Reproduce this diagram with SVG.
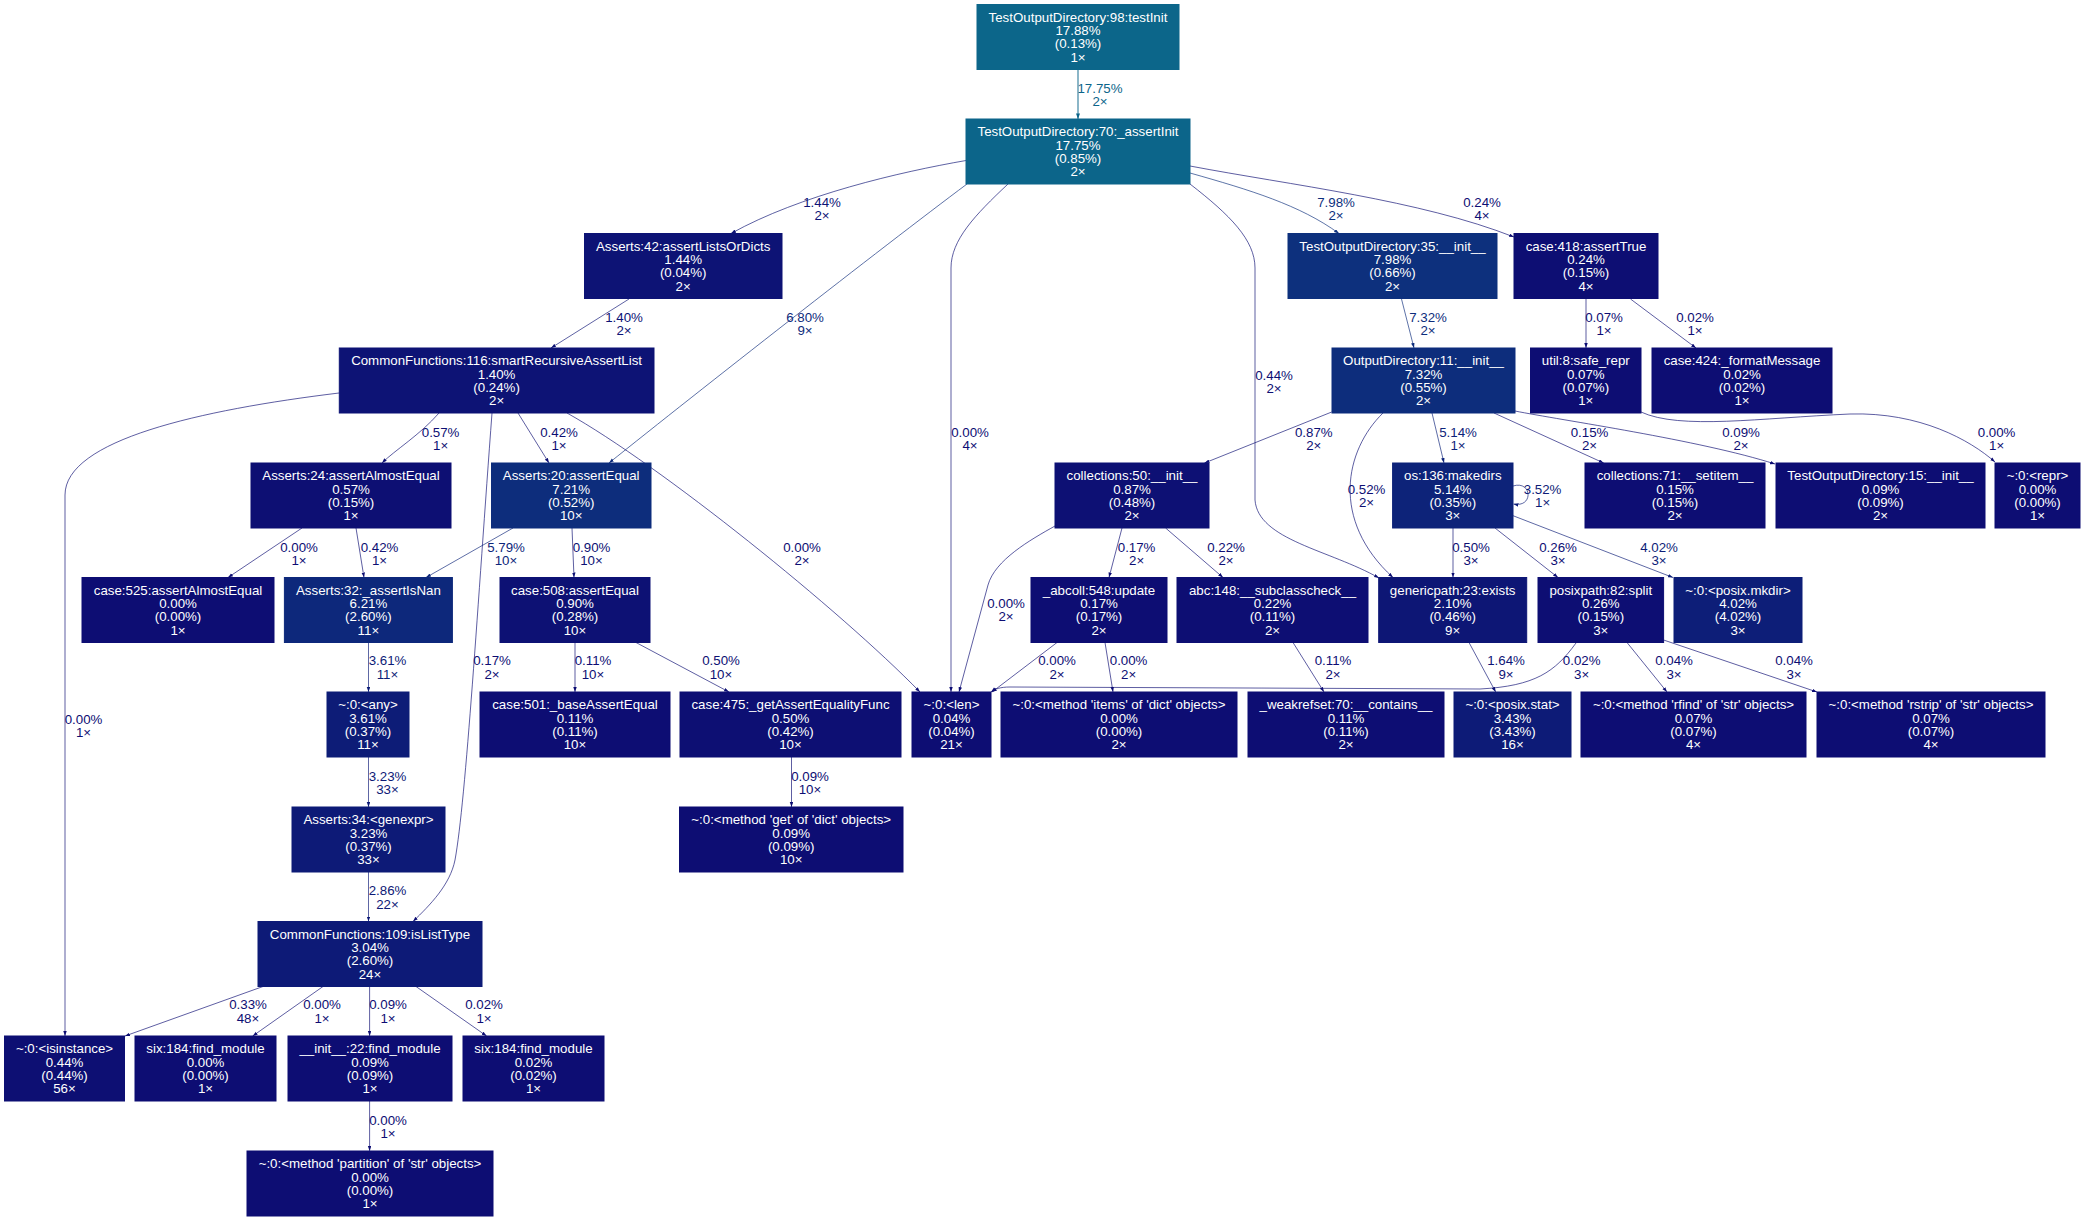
<svg xmlns="http://www.w3.org/2000/svg" width="2085" height="1221" viewBox="0 0 2085 1221">
<style>
text{font-family:"Liberation Sans",Arial,Helvetica,sans-serif;font-size:13.3px}
.node text{fill:#fff;text-anchor:middle}
.node rect{stroke-width:1}
.edge path{fill:none;stroke-width:0.67}
.edge text{text-anchor:middle}
</style>
<defs>
<marker id="mA" markerUnits="userSpaceOnUse" markerWidth="7" markerHeight="5" refX="5.6" refY="2" orient="auto"><path d="M0,0L5.6,2L0,4z" fill="#0c658a"/></marker>
<marker id="m30" markerUnits="userSpaceOnUse" markerWidth="6" markerHeight="4" refX="5" refY="1.75" orient="auto"><path d="M0,0L5,1.75L0,3.5z" fill="#0d307d"/></marker>
<marker id="m2d" markerUnits="userSpaceOnUse" markerWidth="6" markerHeight="4" refX="5" refY="1.75" orient="auto"><path d="M0,0L5,1.75L0,3.5z" fill="#0d2d7c"/></marker>
<marker id="m2b" markerUnits="userSpaceOnUse" markerWidth="6" markerHeight="4" refX="5" refY="1.75" orient="auto"><path d="M0,0L5,1.75L0,3.5z" fill="#0d2b7b"/></marker>
<marker id="m26" markerUnits="userSpaceOnUse" markerWidth="6" markerHeight="4" refX="5" refY="1.75" orient="auto"><path d="M0,0L5,1.75L0,3.5z" fill="#0d267a"/></marker>
<marker id="m23" markerUnits="userSpaceOnUse" markerWidth="6" markerHeight="4" refX="5" refY="1.75" orient="auto"><path d="M0,0L5,1.75L0,3.5z" fill="#0d2379"/></marker>
<marker id="m1e" markerUnits="userSpaceOnUse" markerWidth="6" markerHeight="4" refX="5" refY="1.75" orient="auto"><path d="M0,0L5,1.75L0,3.5z" fill="#0d1e78"/></marker>
<marker id="m1c" markerUnits="userSpaceOnUse" markerWidth="6" markerHeight="4" refX="5" refY="1.75" orient="auto"><path d="M0,0L5,1.75L0,3.5z" fill="#0d1c77"/></marker>
<marker id="m1a" markerUnits="userSpaceOnUse" markerWidth="6" markerHeight="4" refX="5" refY="1.75" orient="auto"><path d="M0,0L5,1.75L0,3.5z" fill="#0d1a77"/></marker>
<marker id="m19" markerUnits="userSpaceOnUse" markerWidth="6" markerHeight="4" refX="5" refY="1.75" orient="auto"><path d="M0,0L5,1.75L0,3.5z" fill="#0d1976"/></marker>
<marker id="m14" markerUnits="userSpaceOnUse" markerWidth="6" markerHeight="4" refX="5" refY="1.75" orient="auto"><path d="M0,0L5,1.75L0,3.5z" fill="#0d1475"/></marker>
<marker id="m13" markerUnits="userSpaceOnUse" markerWidth="6" markerHeight="4" refX="5" refY="1.75" orient="auto"><path d="M0,0L5,1.75L0,3.5z" fill="#0d1375"/></marker>
<marker id="m11" markerUnits="userSpaceOnUse" markerWidth="6" markerHeight="4" refX="5" refY="1.75" orient="auto"><path d="M0,0L5,1.75L0,3.5z" fill="#0d1174"/></marker>
<marker id="m10" markerUnits="userSpaceOnUse" markerWidth="6" markerHeight="4" refX="5" refY="1.75" orient="auto"><path d="M0,0L5,1.75L0,3.5z" fill="#0d1074"/></marker>
<marker id="m0f" markerUnits="userSpaceOnUse" markerWidth="6" markerHeight="4" refX="5" refY="1.75" orient="auto"><path d="M0,0L5,1.75L0,3.5z" fill="#0d0f73"/></marker>
<marker id="m0e" markerUnits="userSpaceOnUse" markerWidth="6" markerHeight="4" refX="5" refY="1.75" orient="auto"><path d="M0,0L5,1.75L0,3.5z" fill="#0d0e73"/></marker>
<marker id="m0d" markerUnits="userSpaceOnUse" markerWidth="6" markerHeight="4" refX="5" refY="1.75" orient="auto"><path d="M0,0L5,1.75L0,3.5z" fill="#0d0d73"/></marker>
</defs>
<rect width="2085" height="1221" fill="#fff"/>
<g id="edges" class="edge">
<path d="M1078,69.5L1078,119" stroke="#0c658a" style="stroke-width:0.95" marker-end="url(#mA)"/>
<text x="1100" y="93" fill="#0c658a"><tspan x="1100">17.75%</tspan><tspan x="1100" dy="13.3">2×</tspan></text>
<path d="M966,160.5C900,172 800,195 731,233.5" stroke="#0d1375" marker-end="url(#m13)"/>
<text x="822" y="206.7" fill="#0d1375"><tspan x="822">1.44%</tspan><tspan x="822" dy="13.3">2×</tspan></text>
<path d="M967,184C880,249 700,390 609,463" stroke="#0d2b7b" marker-end="url(#m2b)"/>
<text x="805" y="321.7" fill="#0d2b7b"><tspan x="805">6.80%</tspan><tspan x="805" dy="13.3">9×</tspan></text>
<path d="M1008,184C975,215 951,240 951,268L951,692" stroke="#0d0d73" marker-end="url(#m0d)"/>
<text x="970" y="436.7" fill="#0d0d73"><tspan x="970">0.00%</tspan><tspan x="970" dy="13.3">4×</tspan></text>
<path d="M1190,184C1230,215 1255,240 1255,268L1255,500C1258,540 1330,550 1379,578" stroke="#0d0f73" marker-end="url(#m0f)"/>
<text x="1274" y="379.7" fill="#0d0f73"><tspan x="1274">0.44%</tspan><tspan x="1274" dy="13.3">2×</tspan></text>
<path d="M1190,173C1250,190 1300,205 1339,233.5" stroke="#0d307d" marker-end="url(#m30)"/>
<text x="1336" y="206.7" fill="#0d307d"><tspan x="1336">7.98%</tspan><tspan x="1336" dy="13.3">2×</tspan></text>
<path d="M1190,166C1290,185 1420,200 1514,237" stroke="#0d0e73" marker-end="url(#m0e)"/>
<text x="1482" y="206.7" fill="#0d0e73"><tspan x="1482">0.24%</tspan><tspan x="1482" dy="13.3">4×</tspan></text>
<path d="M629,299L551,348" stroke="#0d1375" marker-end="url(#m13)"/>
<text x="624" y="321.7" fill="#0d1375"><tspan x="624">1.40%</tspan><tspan x="624" dy="13.3">2×</tspan></text>
<path d="M1401.5,299L1414,348" stroke="#0d2d7c" marker-end="url(#m2d)"/>
<text x="1428" y="321.7" fill="#0d2d7c"><tspan x="1428">7.32%</tspan><tspan x="1428" dy="13.3">2×</tspan></text>
<path d="M1586,299L1586,348" stroke="#0d0d73" marker-end="url(#m0d)"/>
<text x="1604" y="321.7" fill="#0d0d73"><tspan x="1604">0.07%</tspan><tspan x="1604" dy="13.3">1×</tspan></text>
<path d="M1630.5,299L1696,348" stroke="#0d0d73" marker-end="url(#m0d)"/>
<text x="1695" y="321.7" fill="#0d0d73"><tspan x="1695">0.02%</tspan><tspan x="1695" dy="13.3">1×</tspan></text>
<path d="M339,393C200,410 65,440 65,495L65,1036" stroke="#0d0d73" marker-end="url(#m0d)"/>
<text x="83.5" y="723.7" fill="#0d0d73"><tspan x="83.5">0.00%</tspan><tspan x="83.5" dy="13.3">1×</tspan></text>
<path d="M439,413C420,435 395,450 382,463" stroke="#0d0f73" marker-end="url(#m0f)"/>
<text x="440.6" y="436.7" fill="#0d0f73"><tspan x="440.6">0.57%</tspan><tspan x="440.6" dy="13.3">1×</tspan></text>
<path d="M518,413L549,463" stroke="#0d0f73" marker-end="url(#m0f)"/>
<text x="559" y="436.7" fill="#0d0f73"><tspan x="559">0.42%</tspan><tspan x="559" dy="13.3">1×</tspan></text>
<path d="M492,413C478,600 466,800 455,860C450,885 430,905 413,921.5" stroke="#0d0d73" marker-end="url(#m0d)"/>
<text x="492" y="665.4" fill="#0d0d73"><tspan x="492">0.17%</tspan><tspan x="492" dy="13.3">2×</tspan></text>
<path d="M567,413C660,465 840,610 920,692" stroke="#0d0d73" marker-end="url(#m0d)"/>
<text x="802" y="551.7" fill="#0d0d73"><tspan x="802">0.00%</tspan><tspan x="802" dy="13.3">2×</tspan></text>
<path d="M302,528L228,577.5" stroke="#0d0d73" marker-end="url(#m0d)"/>
<text x="299" y="551.7" fill="#0d0d73"><tspan x="299">0.00%</tspan><tspan x="299" dy="13.3">1×</tspan></text>
<path d="M356,528L364,577.5" stroke="#0d0f73" marker-end="url(#m0f)"/>
<text x="379.5" y="551.7" fill="#0d0f73"><tspan x="379.5">0.42%</tspan><tspan x="379.5" dy="13.3">1×</tspan></text>
<path d="M513,528L426,577.5" stroke="#0d267a" marker-end="url(#m26)"/>
<text x="506" y="551.7" fill="#0d267a"><tspan x="506">5.79%</tspan><tspan x="506" dy="13.3">10×</tspan></text>
<path d="M572,528L574,577.5" stroke="#0d1174" marker-end="url(#m11)"/>
<text x="591.5" y="551.7" fill="#0d1174"><tspan x="591.5">0.90%</tspan><tspan x="591.5" dy="13.3">10×</tspan></text>
<path d="M368.5,642.5L368.5,692" stroke="#0d1c77" marker-end="url(#m1c)"/>
<text x="387.5" y="665.4" fill="#0d1c77"><tspan x="387.5">3.61%</tspan><tspan x="387.5" dy="13.3">11×</tspan></text>
<path d="M575,642.5L575,692" stroke="#0d0d73" marker-end="url(#m0d)"/>
<text x="593" y="665.4" fill="#0d0d73"><tspan x="593">0.11%</tspan><tspan x="593" dy="13.3">10×</tspan></text>
<path d="M636,642.5L729,692" stroke="#0d0f73" marker-end="url(#m0f)"/>
<text x="721" y="665.4" fill="#0d0f73"><tspan x="721">0.50%</tspan><tspan x="721" dy="13.3">10×</tspan></text>
<path d="M368.5,757L368.5,807" stroke="#0d1a77" marker-end="url(#m1a)"/>
<text x="387.5" y="780.7" fill="#0d1a77"><tspan x="387.5">3.23%</tspan><tspan x="387.5" dy="13.3">33×</tspan></text>
<path d="M791.5,757L791.5,807" stroke="#0d0d73" marker-end="url(#m0d)"/>
<text x="810" y="780.7" fill="#0d0d73"><tspan x="810">0.09%</tspan><tspan x="810" dy="13.3">10×</tspan></text>
<path d="M368.5,872L368.5,921.5" stroke="#0d1976" marker-end="url(#m19)"/>
<text x="387.5" y="895.4" fill="#0d1976"><tspan x="387.5">2.86%</tspan><tspan x="387.5" dy="13.3">22×</tspan></text>
<path d="M263,986.5L125,1036" stroke="#0d0e73" marker-end="url(#m0e)"/>
<text x="248" y="1009.4" fill="#0d0e73"><tspan x="248">0.33%</tspan><tspan x="248" dy="13.3">48×</tspan></text>
<path d="M323,986.5L252.7,1036" stroke="#0d0d73" marker-end="url(#m0d)"/>
<text x="322" y="1009.4" fill="#0d0d73"><tspan x="322">0.00%</tspan><tspan x="322" dy="13.3">1×</tspan></text>
<path d="M369.6,986.5L369.6,1036" stroke="#0d0d73" marker-end="url(#m0d)"/>
<text x="388" y="1009.4" fill="#0d0d73"><tspan x="388">0.09%</tspan><tspan x="388" dy="13.3">1×</tspan></text>
<path d="M416,986.5L486.6,1036" stroke="#0d0d73" marker-end="url(#m0d)"/>
<text x="484" y="1009.4" fill="#0d0d73"><tspan x="484">0.02%</tspan><tspan x="484" dy="13.3">1×</tspan></text>
<path d="M369.6,1101L369.6,1151" stroke="#0d0d73" marker-end="url(#m0d)"/>
<text x="388" y="1124.7" fill="#0d0d73"><tspan x="388">0.00%</tspan><tspan x="388" dy="13.3">1×</tspan></text>
<path d="M1331.7,412L1204.5,463" stroke="#0d1074" marker-end="url(#m10)"/>
<text x="1313.8" y="436.7" fill="#0d1074"><tspan x="1313.8">0.87%</tspan><tspan x="1313.8" dy="13.3">2×</tspan></text>
<path d="M1055,526C1030,540 995,560 988,585L959,692" stroke="#0d0d73" marker-end="url(#m0d)"/>
<text x="1006" y="607.7" fill="#0d0d73"><tspan x="1006">0.00%</tspan><tspan x="1006" dy="13.3">2×</tspan></text>
<path d="M1122,528L1109,577.5" stroke="#0d0d73" marker-end="url(#m0d)"/>
<text x="1136.6" y="551.7" fill="#0d0d73"><tspan x="1136.6">0.17%</tspan><tspan x="1136.6" dy="13.3">2×</tspan></text>
<path d="M1165.6,528L1223,577.5" stroke="#0d0e73" marker-end="url(#m0e)"/>
<text x="1226" y="551.7" fill="#0d0e73"><tspan x="1226">0.22%</tspan><tspan x="1226" dy="13.3">2×</tspan></text>
<path d="M1057,642.5L992,692" stroke="#0d0d73" marker-end="url(#m0d)"/>
<text x="1057" y="665.4" fill="#0d0d73"><tspan x="1057">0.00%</tspan><tspan x="1057" dy="13.3">2×</tspan></text>
<path d="M1105,642.5L1113,692" stroke="#0d0d73" marker-end="url(#m0d)"/>
<text x="1128.6" y="665.4" fill="#0d0d73"><tspan x="1128.6">0.00%</tspan><tspan x="1128.6" dy="13.3">2×</tspan></text>
<path d="M1293,642.5L1324,692" stroke="#0d0d73" marker-end="url(#m0d)"/>
<text x="1333" y="665.4" fill="#0d0d73"><tspan x="1333">0.11%</tspan><tspan x="1333" dy="13.3">2×</tspan></text>
<path d="M1469,642.5L1495.7,692" stroke="#0d1475" marker-end="url(#m14)"/>
<text x="1506" y="665.4" fill="#0d1475"><tspan x="1506">1.64%</tspan><tspan x="1506" dy="13.3">9×</tspan></text>
<path d="M1576,643C1555,672 1535,686 1480,689L1010,687C1000,687 995,689 991,692" stroke="#0d0d73" marker-end="url(#m0d)"/>
<text x="1581.7" y="665.4" fill="#0d0d73"><tspan x="1581.7">0.02%</tspan><tspan x="1581.7" dy="13.3">3×</tspan></text>
<path d="M1513,486C1532,480 1534,508 1513.5,504" stroke="#0d1c77" marker-end="url(#m1c)"/>
<text x="1542.6" y="493.7" fill="#0d1c77"><tspan x="1542.6">3.52%</tspan><tspan x="1542.6" dy="13.3">1×</tspan></text>
<path d="M1432,413L1444,463" stroke="#0d2379" marker-end="url(#m23)"/>
<text x="1458" y="436.7" fill="#0d2379"><tspan x="1458">5.14%</tspan><tspan x="1458" dy="13.3">1×</tspan></text>
<path d="M1494,413L1603.7,463" stroke="#0d0d73" marker-end="url(#m0d)"/>
<text x="1589.5" y="436.7" fill="#0d0d73"><tspan x="1589.5">0.15%</tspan><tspan x="1589.5" dy="13.3">2×</tspan></text>
<path d="M1515,411C1560,420 1700,440 1775,464" stroke="#0d0d73" marker-end="url(#m0d)"/>
<text x="1741" y="436.7" fill="#0d0d73"><tspan x="1741">0.09%</tspan><tspan x="1741" dy="13.3">2×</tspan></text>
<path d="M1641,412C1680,430 1760,418 1850,414C1920,412 1970,440 1995,462" stroke="#0d0d73" marker-end="url(#m0d)"/>
<text x="1996.6" y="436.7" fill="#0d0d73"><tspan x="1996.6">0.00%</tspan><tspan x="1996.6" dy="13.3">1×</tspan></text>
<path d="M1453,528L1453,577.5" stroke="#0d0f73" marker-end="url(#m0f)"/>
<text x="1471" y="551.7" fill="#0d0f73"><tspan x="1471">0.50%</tspan><tspan x="1471" dy="13.3">3×</tspan></text>
<path d="M1495,528L1558,577.5" stroke="#0d0e73" marker-end="url(#m0e)"/>
<text x="1558" y="551.7" fill="#0d0e73"><tspan x="1558">0.26%</tspan><tspan x="1558" dy="13.3">3×</tspan></text>
<path d="M1513,515.7L1673,577.5" stroke="#0d1e78" marker-end="url(#m1e)"/>
<text x="1659" y="551.7" fill="#0d1e78"><tspan x="1659">4.02%</tspan><tspan x="1659" dy="13.3">3×</tspan></text>
<path d="M1627,642.5L1667,692" stroke="#0d0d73" marker-end="url(#m0d)"/>
<text x="1674" y="665.4" fill="#0d0d73"><tspan x="1674">0.04%</tspan><tspan x="1674" dy="13.3">3×</tspan></text>
<path d="M1663.6,640L1817,692" stroke="#0d0d73" marker-end="url(#m0d)"/>
<text x="1794" y="665.4" fill="#0d0d73"><tspan x="1794">0.04%</tspan><tspan x="1794" dy="13.3">3×</tspan></text>
<path d="M1383,413C1345,450 1330,520 1393,577.5" stroke="#0d0f73" marker-end="url(#m0f)"/>
<text x="1366.5" y="493.7" fill="#0d0f73"><tspan x="1366.5">0.52%</tspan><tspan x="1366.5" dy="13.3">2×</tspan></text>
</g>
<g id="n1" class="node"><rect x="977" y="4.5" width="202" height="65" fill="#0c668a" stroke="#0c668a"/><text y="21.8"><tspan x="1078">TestOutputDirectory:98:testInit</tspan><tspan x="1078" dy="13.3">17.88%</tspan><tspan x="1078" dy="13.3">(0.13%)</tspan><tspan x="1078" dy="13.3">1×</tspan></text></g>
<g id="n2" class="node"><rect x="966" y="119" width="224" height="65" fill="#0c658a" stroke="#0c658a"/><text y="136.3"><tspan x="1078">TestOutputDirectory:70:_assertInit</tspan><tspan x="1078" dy="13.3">17.75%</tspan><tspan x="1078" dy="13.3">(0.85%)</tspan><tspan x="1078" dy="13.3">2×</tspan></text></g>
<g id="n3" class="node"><rect x="584.5" y="233.5" width="197.5" height="65" fill="#0d1375" stroke="#0d1375"/><text y="250.8"><tspan x="683.2">Asserts:42:assertListsOrDicts</tspan><tspan x="683.2" dy="13.3">1.44%</tspan><tspan x="683.2" dy="13.3">(0.04%)</tspan><tspan x="683.2" dy="13.3">2×</tspan></text></g>
<g id="n4" class="node"><rect x="1288" y="233.5" width="209" height="65" fill="#0d307d" stroke="#0d307d"/><text y="250.8"><tspan x="1392.5">TestOutputDirectory:35:__init__</tspan><tspan x="1392.5" dy="13.3">7.98%</tspan><tspan x="1392.5" dy="13.3">(0.66%)</tspan><tspan x="1392.5" dy="13.3">2×</tspan></text></g>
<g id="n5" class="node"><rect x="1514" y="233.5" width="144" height="65" fill="#0d0e73" stroke="#0d0e73"/><text y="250.8"><tspan x="1586">case:418:assertTrue</tspan><tspan x="1586" dy="13.3">0.24%</tspan><tspan x="1586" dy="13.3">(0.15%)</tspan><tspan x="1586" dy="13.3">4×</tspan></text></g>
<g id="n6" class="node"><rect x="339.3" y="348" width="314.7" height="65" fill="#0d1375" stroke="#0d1375"/><text y="365.3"><tspan x="496.6">CommonFunctions:116:smartRecursiveAssertList</tspan><tspan x="496.6" dy="13.3">1.40%</tspan><tspan x="496.6" dy="13.3">(0.24%)</tspan><tspan x="496.6" dy="13.3">2×</tspan></text></g>
<g id="n7" class="node"><rect x="1332" y="348" width="183" height="65" fill="#0d2d7c" stroke="#0d2d7c"/><text y="365.3"><tspan x="1423.5">OutputDirectory:11:__init__</tspan><tspan x="1423.5" dy="13.3">7.32%</tspan><tspan x="1423.5" dy="13.3">(0.55%)</tspan><tspan x="1423.5" dy="13.3">2×</tspan></text></g>
<g id="n8" class="node"><rect x="1530.5" y="348" width="110.5" height="65" fill="#0d0d73" stroke="#0d0d73"/><text y="365.3"><tspan x="1585.8">util:8:safe_repr</tspan><tspan x="1585.8" dy="13.3">0.07%</tspan><tspan x="1585.8" dy="13.3">(0.07%)</tspan><tspan x="1585.8" dy="13.3">1×</tspan></text></g>
<g id="n9" class="node"><rect x="1652" y="348" width="180" height="65" fill="#0d0d73" stroke="#0d0d73"/><text y="365.3"><tspan x="1742">case:424:_formatMessage</tspan><tspan x="1742" dy="13.3">0.02%</tspan><tspan x="1742" dy="13.3">(0.02%)</tspan><tspan x="1742" dy="13.3">1×</tspan></text></g>
<g id="n10" class="node"><rect x="251" y="463" width="200" height="65" fill="#0d0f73" stroke="#0d0f73"/><text y="480.3"><tspan x="351">Asserts:24:assertAlmostEqual</tspan><tspan x="351" dy="13.3">0.57%</tspan><tspan x="351" dy="13.3">(0.15%)</tspan><tspan x="351" dy="13.3">1×</tspan></text></g>
<g id="n11" class="node"><rect x="491.5" y="463" width="159.5" height="65" fill="#0d2d7c" stroke="#0d2d7c"/><text y="480.3"><tspan x="571.2">Asserts:20:assertEqual</tspan><tspan x="571.2" dy="13.3">7.21%</tspan><tspan x="571.2" dy="13.3">(0.52%)</tspan><tspan x="571.2" dy="13.3">10×</tspan></text></g>
<g id="n12" class="node"><rect x="1055" y="463" width="154" height="65" fill="#0d1074" stroke="#0d1074"/><text y="480.3"><tspan x="1132">collections:50:__init__</tspan><tspan x="1132" dy="13.3">0.87%</tspan><tspan x="1132" dy="13.3">(0.48%)</tspan><tspan x="1132" dy="13.3">2×</tspan></text></g>
<g id="n13" class="node"><rect x="1392.6" y="463" width="120.4" height="65" fill="#0d2379" stroke="#0d2379"/><text y="480.3"><tspan x="1452.8">os:136:makedirs</tspan><tspan x="1452.8" dy="13.3">5.14%</tspan><tspan x="1452.8" dy="13.3">(0.35%)</tspan><tspan x="1452.8" dy="13.3">3×</tspan></text></g>
<g id="n14" class="node"><rect x="1585" y="463" width="180" height="65" fill="#0d0d73" stroke="#0d0d73"/><text y="480.3"><tspan x="1675">collections:71:__setitem__</tspan><tspan x="1675" dy="13.3">0.15%</tspan><tspan x="1675" dy="13.3">(0.15%)</tspan><tspan x="1675" dy="13.3">2×</tspan></text></g>
<g id="n15" class="node"><rect x="1776" y="463" width="209" height="65" fill="#0d0d73" stroke="#0d0d73"/><text y="480.3"><tspan x="1880.5">TestOutputDirectory:15:__init__</tspan><tspan x="1880.5" dy="13.3">0.09%</tspan><tspan x="1880.5" dy="13.3">(0.09%)</tspan><tspan x="1880.5" dy="13.3">2×</tspan></text></g>
<g id="n16" class="node"><rect x="1995" y="463" width="85" height="65" fill="#0d0d73" stroke="#0d0d73"/><text y="480.3"><tspan x="2037.5">~:0:&lt;repr&gt;</tspan><tspan x="2037.5" dy="13.3">0.00%</tspan><tspan x="2037.5" dy="13.3">(0.00%)</tspan><tspan x="2037.5" dy="13.3">1×</tspan></text></g>
<g id="n17" class="node"><rect x="82" y="577.5" width="192" height="65" fill="#0d0d73" stroke="#0d0d73"/><text y="594.8"><tspan x="178">case:525:assertAlmostEqual</tspan><tspan x="178" dy="13.3">0.00%</tspan><tspan x="178" dy="13.3">(0.00%)</tspan><tspan x="178" dy="13.3">1×</tspan></text></g>
<g id="n18" class="node"><rect x="284.4" y="577.5" width="168" height="65" fill="#0d287b" stroke="#0d287b"/><text y="594.8"><tspan x="368.4">Asserts:32:_assertIsNan</tspan><tspan x="368.4" dy="13.3">6.21%</tspan><tspan x="368.4" dy="13.3">(2.60%)</tspan><tspan x="368.4" dy="13.3">11×</tspan></text></g>
<g id="n19" class="node"><rect x="500" y="577.5" width="150" height="65" fill="#0d1174" stroke="#0d1174"/><text y="594.8"><tspan x="575">case:508:assertEqual</tspan><tspan x="575" dy="13.3">0.90%</tspan><tspan x="575" dy="13.3">(0.28%)</tspan><tspan x="575" dy="13.3">10×</tspan></text></g>
<g id="n20" class="node"><rect x="1031" y="577.5" width="136" height="65" fill="#0d0d73" stroke="#0d0d73"/><text y="594.8"><tspan x="1099">_abcoll:548:update</tspan><tspan x="1099" dy="13.3">0.17%</tspan><tspan x="1099" dy="13.3">(0.17%)</tspan><tspan x="1099" dy="13.3">2×</tspan></text></g>
<g id="n21" class="node"><rect x="1177" y="577.5" width="191" height="65" fill="#0d0e73" stroke="#0d0e73"/><text y="594.8"><tspan x="1272.5">abc:148:__subclasscheck__</tspan><tspan x="1272.5" dy="13.3">0.22%</tspan><tspan x="1272.5" dy="13.3">(0.11%)</tspan><tspan x="1272.5" dy="13.3">2×</tspan></text></g>
<g id="n22" class="node"><rect x="1378.7" y="577.5" width="148" height="65" fill="#0d1675" stroke="#0d1675"/><text y="594.8"><tspan x="1452.7">genericpath:23:exists</tspan><tspan x="1452.7" dy="13.3">2.10%</tspan><tspan x="1452.7" dy="13.3">(0.46%)</tspan><tspan x="1452.7" dy="13.3">9×</tspan></text></g>
<g id="n23" class="node"><rect x="1538" y="577.5" width="125.6" height="65" fill="#0d0e73" stroke="#0d0e73"/><text y="594.8"><tspan x="1600.8">posixpath:82:split</tspan><tspan x="1600.8" dy="13.3">0.26%</tspan><tspan x="1600.8" dy="13.3">(0.15%)</tspan><tspan x="1600.8" dy="13.3">3×</tspan></text></g>
<g id="n24" class="node"><rect x="1674" y="577.5" width="128" height="65" fill="#0d1e78" stroke="#0d1e78"/><text y="594.8"><tspan x="1738">~:0:&lt;posix.mkdir&gt;</tspan><tspan x="1738" dy="13.3">4.02%</tspan><tspan x="1738" dy="13.3">(4.02%)</tspan><tspan x="1738" dy="13.3">3×</tspan></text></g>
<g id="n25" class="node"><rect x="327" y="692" width="82" height="65" fill="#0d1c77" stroke="#0d1c77"/><text y="709.3"><tspan x="368">~:0:&lt;any&gt;</tspan><tspan x="368" dy="13.3">3.61%</tspan><tspan x="368" dy="13.3">(0.37%)</tspan><tspan x="368" dy="13.3">11×</tspan></text></g>
<g id="n26" class="node"><rect x="480" y="692" width="190" height="65" fill="#0d0d73" stroke="#0d0d73"/><text y="709.3"><tspan x="575">case:501:_baseAssertEqual</tspan><tspan x="575" dy="13.3">0.11%</tspan><tspan x="575" dy="13.3">(0.11%)</tspan><tspan x="575" dy="13.3">10×</tspan></text></g>
<g id="n27" class="node"><rect x="680" y="692" width="221" height="65" fill="#0d0f73" stroke="#0d0f73"/><text y="709.3"><tspan x="790.5">case:475:_getAssertEqualityFunc</tspan><tspan x="790.5" dy="13.3">0.50%</tspan><tspan x="790.5" dy="13.3">(0.42%)</tspan><tspan x="790.5" dy="13.3">10×</tspan></text></g>
<g id="n28" class="node"><rect x="912" y="692" width="79" height="65" fill="#0d0d73" stroke="#0d0d73"/><text y="709.3"><tspan x="951.5">~:0:&lt;len&gt;</tspan><tspan x="951.5" dy="13.3">0.04%</tspan><tspan x="951.5" dy="13.3">(0.04%)</tspan><tspan x="951.5" dy="13.3">21×</tspan></text></g>
<g id="n29" class="node"><rect x="1001" y="692" width="236" height="65" fill="#0d0d73" stroke="#0d0d73"/><text y="709.3"><tspan x="1119">~:0:&lt;method 'items' of 'dict' objects&gt;</tspan><tspan x="1119" dy="13.3">0.00%</tspan><tspan x="1119" dy="13.3">(0.00%)</tspan><tspan x="1119" dy="13.3">2×</tspan></text></g>
<g id="n30" class="node"><rect x="1248" y="692" width="196" height="65" fill="#0d0d73" stroke="#0d0d73"/><text y="709.3"><tspan x="1346">_weakrefset:70:__contains__</tspan><tspan x="1346" dy="13.3">0.11%</tspan><tspan x="1346" dy="13.3">(0.11%)</tspan><tspan x="1346" dy="13.3">2×</tspan></text></g>
<g id="n31" class="node"><rect x="1454" y="692" width="117" height="65" fill="#0d1b77" stroke="#0d1b77"/><text y="709.3"><tspan x="1512.5">~:0:&lt;posix.stat&gt;</tspan><tspan x="1512.5" dy="13.3">3.43%</tspan><tspan x="1512.5" dy="13.3">(3.43%)</tspan><tspan x="1512.5" dy="13.3">16×</tspan></text></g>
<g id="n32" class="node"><rect x="1581" y="692" width="225" height="65" fill="#0d0d73" stroke="#0d0d73"/><text y="709.3"><tspan x="1693.5">~:0:&lt;method 'rfind' of 'str' objects&gt;</tspan><tspan x="1693.5" dy="13.3">0.07%</tspan><tspan x="1693.5" dy="13.3">(0.07%)</tspan><tspan x="1693.5" dy="13.3">4×</tspan></text></g>
<g id="n33" class="node"><rect x="1817" y="692" width="228" height="65" fill="#0d0d73" stroke="#0d0d73"/><text y="709.3"><tspan x="1931">~:0:&lt;method 'rstrip' of 'str' objects&gt;</tspan><tspan x="1931" dy="13.3">0.07%</tspan><tspan x="1931" dy="13.3">(0.07%)</tspan><tspan x="1931" dy="13.3">4×</tspan></text></g>
<g id="n34" class="node"><rect x="292" y="807" width="153" height="65" fill="#0d1a77" stroke="#0d1a77"/><text y="824.3"><tspan x="368.5">Asserts:34:&lt;genexpr&gt;</tspan><tspan x="368.5" dy="13.3">3.23%</tspan><tspan x="368.5" dy="13.3">(0.37%)</tspan><tspan x="368.5" dy="13.3">33×</tspan></text></g>
<g id="n35" class="node"><rect x="679.5" y="807" width="223.5" height="65" fill="#0d0d73" stroke="#0d0d73"/><text y="824.3"><tspan x="791.2">~:0:&lt;method 'get' of 'dict' objects&gt;</tspan><tspan x="791.2" dy="13.3">0.09%</tspan><tspan x="791.2" dy="13.3">(0.09%)</tspan><tspan x="791.2" dy="13.3">10×</tspan></text></g>
<g id="n36" class="node"><rect x="258" y="921.5" width="224" height="65" fill="#0d1a77" stroke="#0d1a77"/><text y="938.8"><tspan x="370">CommonFunctions:109:isListType</tspan><tspan x="370" dy="13.3">3.04%</tspan><tspan x="370" dy="13.3">(2.60%)</tspan><tspan x="370" dy="13.3">24×</tspan></text></g>
<g id="n37" class="node"><rect x="4.5" y="1036" width="120" height="65" fill="#0d0f73" stroke="#0d0f73"/><text y="1053.3"><tspan x="64.5">~:0:&lt;isinstance&gt;</tspan><tspan x="64.5" dy="13.3">0.44%</tspan><tspan x="64.5" dy="13.3">(0.44%)</tspan><tspan x="64.5" dy="13.3">56×</tspan></text></g>
<g id="n38" class="node"><rect x="135" y="1036" width="141" height="65" fill="#0d0d73" stroke="#0d0d73"/><text y="1053.3"><tspan x="205.5">six:184:find_module</tspan><tspan x="205.5" dy="13.3">0.00%</tspan><tspan x="205.5" dy="13.3">(0.00%)</tspan><tspan x="205.5" dy="13.3">1×</tspan></text></g>
<g id="n39" class="node"><rect x="288" y="1036" width="164" height="65" fill="#0d0d73" stroke="#0d0d73"/><text y="1053.3"><tspan x="370">__init__:22:find_module</tspan><tspan x="370" dy="13.3">0.09%</tspan><tspan x="370" dy="13.3">(0.09%)</tspan><tspan x="370" dy="13.3">1×</tspan></text></g>
<g id="n40" class="node"><rect x="463" y="1036" width="141" height="65" fill="#0d0d73" stroke="#0d0d73"/><text y="1053.3"><tspan x="533.5">six:184:find_module</tspan><tspan x="533.5" dy="13.3">0.02%</tspan><tspan x="533.5" dy="13.3">(0.02%)</tspan><tspan x="533.5" dy="13.3">1×</tspan></text></g>
<g id="n41" class="node"><rect x="247" y="1151" width="246" height="65" fill="#0d0d73" stroke="#0d0d73"/><text y="1168.3"><tspan x="370">~:0:&lt;method 'partition' of 'str' objects&gt;</tspan><tspan x="370" dy="13.3">0.00%</tspan><tspan x="370" dy="13.3">(0.00%)</tspan><tspan x="370" dy="13.3">1×</tspan></text></g>
</svg>
